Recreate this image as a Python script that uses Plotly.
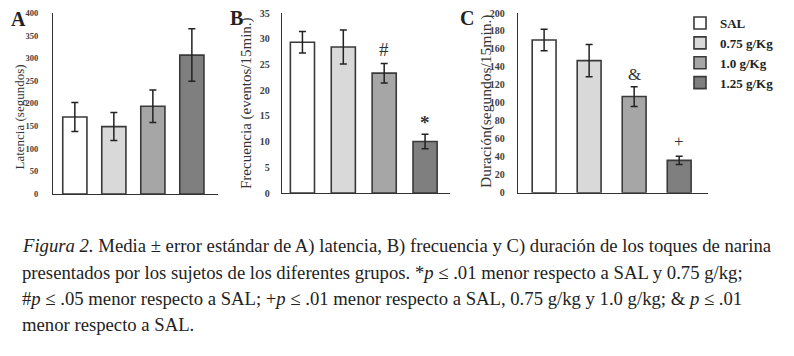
import plotly.graph_objects as go

# The page body has an 8px margin, so the figure is drawn at (8, 8) in the window.
OFF = 8
W, H = 794 - OFF, 356 - OFF

groups = ["SAL", "0.75 g/Kg", "1.0 g/Kg", "1.25 g/Kg"]
colors = ["#ffffff", "#d9d9d9", "#a6a6a6", "#7f7f7f"]

latencia = [170, 149, 194, 307]
latencia_err = [32, 31, 36, 58]
frecuencia = [29.3, 28.4, 23.3, 10.0]
frecuencia_err = [2.1, 3.3, 1.9, 1.4]
duracion = [170, 147, 107, 36]
duracion_err = [12, 18, 11, 4.5]

marks_B = ["", "", "#", "*"]
marks_B_y = [0, 0, 27.9, 13.8]
marks_C = ["", "", "&", "+"]
marks_C_y = [0, 0, 131.5, 57.5]

caption = [
    "<i>Figura 2.</i> Media ± error estándar de A) latencia, B) frecuencia y C) duración de los toques de narina",
    "presentados por los sujetos de los diferentes grupos. *<i>p</i> ≤ .01 menor respecto a SAL y 0.75 g/kg;",
    "#<i>p</i> ≤ .05 menor respecto a SAL; +<i>p</i> ≤ .01 menor respecto a SAL, 0.75 g/kg y 1.0 g/kg; & <i>p</i> ≤ .01",
    "menor respecto a SAL.",
]

def X(px):
    return (px - OFF) / W

def Y(py):
    return 1 - (py - OFF) / H

panels = [
    dict(vals=latencia, err=latencia_err, xd=[X(53), X(218)], yd=[Y(194), Y(13)], yr=[0, 400], dt=50,
         xr=[-0.56, 3.67], w=0.62, title="Latencia (segundos)", tx=19.5, ty=117, ts=13,
         tks=8.5, tso=12, letter="A", lx=18, ly=19, legend=False),
    dict(vals=frecuencia, err=frecuencia_err, xd=[X(282), X(450)], yd=[Y(193), Y(13)], yr=[0, 35], dt=5,
         xr=[-0.5, 3.61], w=0.59, title="Frecuencia (eventos/15min.)", tx=247, ty=103, ts=15,
         tks=10, tso=9, letter="B", lx=236, ly=18, legend=False),
    dict(vals=duracion, err=duracion_err, xd=[X(518), X(708)], yd=[Y(192.7), Y(13)], yr=[0, 200], dt=20,
         xr=[-0.58, 3.64], w=0.53, title="Duración(segundos/15min.)", tx=486, ty=102, ts=15.5,
         tks=10, tso=10, letter="C", lx=467, ly=18, legend=True),
]

fig = go.Figure()
serif = "Liberation Serif"

for i, p in enumerate(panels):
    sfx = "" if i == 0 else str(i + 1)
    for g in range(4):
        fig.add_trace(go.Bar(
            x=[g], y=[p["vals"][g]], width=p["w"], name=groups[g],
            marker=dict(color=colors[g], line=dict(color="#3a3a3a", width=1.6)),
            error_y=dict(type="data", array=[p["err"][g]], color="#222222", thickness=1.5, width=3.5),
            xaxis="x" + sfx, yaxis="y" + sfx,
            showlegend=p["legend"], legendgroup=groups[g],
        ))
    fig.layout["xaxis" + sfx] = dict(domain=p["xd"], range=p["xr"], anchor="y" + sfx,
                                     showticklabels=False, ticks="", showgrid=False, zeroline=False,
                                     showline=True, linecolor="#333333", linewidth=1.3)
    fig.layout["yaxis" + sfx] = dict(domain=p["yd"], range=p["yr"], anchor="x" + sfx, dtick=p["dt"],
                                     showgrid=False, zeroline=False, showline=True,
                                     linecolor="#333333", linewidth=1.3, ticks="",
                                     ticklabelstandoff=p["tso"], ticklabeloverflow="allow",
                                     tickfont=dict(family=serif, size=p["tks"], color="#404040", weight="bold"))
    fig.add_annotation(x=X(p["tx"]), y=Y(p["ty"]), xref="paper", yref="paper", text=p["title"],
                       textangle=-90, showarrow=False, xanchor="center", yanchor="middle",
                       font=dict(family=serif, size=p["ts"], color="#333333"))
    fig.add_annotation(x=X(p["lx"]), y=Y(p["ly"]), xref="paper", yref="paper", text="<b>" + p["letter"] + "</b>",
                       showarrow=False, xanchor="center", yanchor="middle", borderpad=0,
                       font=dict(family=serif, size=20, color="#222222"))

for g in range(4):
    if marks_B[g]:
        fig.add_annotation(x=g, y=marks_B_y[g], xref="x2", yref="y2", text="<b>" + marks_B[g] + "</b>"
                           if marks_B[g] == "*" else marks_B[g], showarrow=False,
                           font=dict(family=serif, size=19, color="#333333"))
    if marks_C[g]:
        fig.add_annotation(x=g, y=marks_C_y[g], xref="x3", yref="y3", text=marks_C[g], showarrow=False,
                           font=dict(family=serif, size=17, color="#333333"))

for k, line in enumerate(caption):
    fig.add_annotation(x=X(20), y=Y(246 + 26.3 * k), xref="paper", yref="paper", text=line,
                       xanchor="left", yanchor="middle", showarrow=False,
                       font=dict(family=serif, size=18.7, color="#222222"))

fig.update_layout(
    width=W, height=H, margin=dict(l=0, r=0, t=0, b=0, autoexpand=False),
    paper_bgcolor="white", plot_bgcolor="white",
    barmode="overlay",
    legend=dict(x=X(680), y=Y(8), xanchor="left", yanchor="top", bgcolor="rgba(0,0,0,0)",
                font=dict(family=serif, size=13, color="#222222", weight="bold"),
                itemwidth=30, tracegroupgap=0),
)

fig.write_html("out.html")
